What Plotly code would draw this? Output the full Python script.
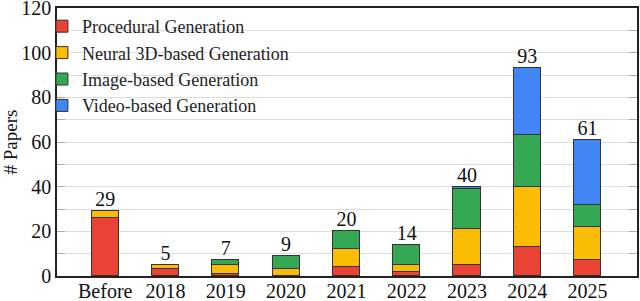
import plotly.graph_objects as go

categories = ["Before", "2018", "2019", "2020", "2021", "2022", "2023", "2024", "2025"]
procedural = [26, 3, 1, 0, 4, 2, 5, 13, 7]
neural3d = [3, 2, 4, 3, 8, 3, 16, 27, 15]
image_based = [0, 0, 2, 6, 8, 9, 18, 23, 10]
video_based = [0, 0, 0, 0, 0, 0, 1, 30, 29]
totals = [29, 5, 7, 9, 20, 14, 40, 93, 61]

series_names = ["Procedural Generation", "Neural 3D-based Generation",
                "Image-based Generation", "Video-based Generation"]
series_values = [procedural, neural3d, image_based, video_based]
colors = ["#EA4335", "#FBBC04", "#34A853", "#4285F4"]

FONT = "Liberation Serif"

fig = go.Figure()
for name, vals, col in zip(series_names, series_values, colors):
    fig.add_trace(go.Bar(
        x=categories, y=vals, name=name, width=0.45,
        marker=dict(color=col, line=dict(color="#333333", width=1)),
    ))

fig.add_trace(go.Scatter(
    x=categories, y=totals, mode="text", text=[str(t) for t in totals],
    textposition="top center", textfont=dict(family=FONT, size=20, color="#111111"),
    showlegend=False, hoverinfo="skip", cliponaxis=False,
))

fig.update_layout(
    barmode="stack",
    width=640, height=301,
    margin=dict(l=57, r=3, t=8, b=25, autoexpand=False),
    paper_bgcolor="white", plot_bgcolor="white",
    font=dict(family=FONT, size=20, color="#111111"),
    showlegend=True,
    legend=dict(
        x=-0.026, y=1.0, xanchor="left", yanchor="top",
        traceorder="normal", bgcolor="rgba(0,0,0,0)", borderwidth=0,
        font=dict(family=FONT, size=18, color="#222222"),
        itemwidth=30, tracegroupgap=0,
    ),
    bargap=0,
    shapes=[dict(type="rect", xref="paper", yref="paper", x0=0.002, x1=0.455,
                 y0=0.6, y1=0.985, fillcolor="white", line=dict(width=0), layer="below")],
)

fig.update_xaxes(
    range=[-0.8, 8.82], type="category", automargin=False,
    showline=True, linecolor="#222222", linewidth=1.5, mirror=True,
    ticks="", showgrid=False, ticklabelstandoff=-4, ticklabeloverflow="allow",
    tickfont=dict(family=FONT, size=20, color="#111111"),
)
fig.update_yaxes(
    range=[0, 120], dtick=20, tick0=0, automargin=False,
    showline=True, linecolor="#222222", linewidth=1.5, mirror="ticks",
    ticks="inside", ticklen=8, tickcolor="#aaaaaa", tickwidth=1,
    showgrid=True, gridcolor="#dddddd", gridwidth=1,
    minor=dict(dtick=10, showgrid=True, gridcolor="#dddddd", ticks="inside",
               ticklen=8, tickcolor="#aaaaaa"),
    tickfont=dict(family=FONT, size=20, color="#111111"), ticklabeloverflow="allow",
    title=dict(text="# Papers", font=dict(family=FONT, size=19, color="#111111"), standoff=18),
    zeroline=False,
)

fig.write_html("out.html", config={"displayModeBar": False},
               post_script="document.body.style.margin='0';")
